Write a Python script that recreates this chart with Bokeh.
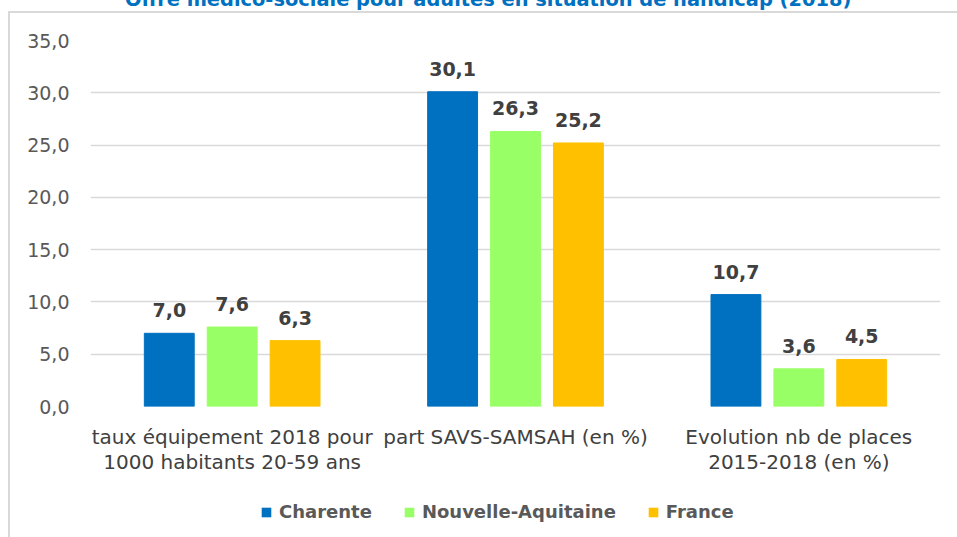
from bokeh.plotting import figure
from bokeh.layouts import column
from bokeh.models import (ColumnDataSource, FactorRange, Range1d, Legend, LegendItem,
                          CustomJSTickFormatter, FixedTicker, Div)
from bokeh.transform import dodge
from bokeh.core.properties import value
from bokeh.embed import file_html
from bokeh.resources import INLINE

title_text = "Offre médico-sociale pour adultes en situation de handicap (2018)"
categories = ["taux équipement 2018 pour\n1000 habitants 20-59 ans",
              "part SAVS-SAMSAH (en %)",
              "Evolution nb de places\n2015-2018 (en %)"]
series_names = ["Charente", "Nouvelle-Aquitaine", "France"]
charente = [7.0, 30.1, 10.7]
nouvelle_aquitaine = [7.6, 26.3, 3.6]
france = [6.3, 25.2, 4.5]
y_ticks = [0, 5, 10, 15, 20, 25, 30, 35]
colors = ["#0070C0", "#99FF66", "#FFC000"]

def fmt(v):
    return f"{v:.1f}".replace(".", ",")

source = ColumnDataSource(data=dict(
    cat=categories,
    s0=charente, s1=nouvelle_aquitaine, s2=france,
    l0=[fmt(v) for v in charente],
    l1=[fmt(v) for v in nouvelle_aquitaine],
    l2=[fmt(v) for v in france],
))

title_div = Div(
    text=(f'<div style="margin-top:-21px; position:relative; top:-6px; padding-left:117px; '
          f'font-family:\'DejaVu Sans\'; font-weight:bold; font-size:19.4px; '
          f'line-height:20px; color:#0070C0; white-space:nowrap;">{title_text}</div>'),
    width=949, height=11, margin=(0, 0, 0, 8),
    styles={"overflow": "hidden"})

x_range = FactorRange(*categories, range_padding=0)
p = figure(width=949, height=479, x_range=x_range,
           y_range=Range1d(0, 35), output_backend="svg", toolbar_location=None,
           min_border_left=80, min_border_right=19, min_border_top=27,
           min_border_bottom=86)
p.outline_line_color = None
p.background_fill_color = "white"
p.border_fill_color = "white"

offsets = [-0.222, 0.0, 0.222]
bar_w = 0.176
for i, (name, col) in enumerate(zip(series_names, colors)):
    p.vbar(x=dodge("cat", offsets[i], range=x_range), top=f"s{i}", width=bar_w,
           source=source, fill_color=col, line_color=col)
    p.text(x=dodge("cat", offsets[i], range=x_range), y=f"s{i}", text=f"l{i}",
           source=source, text_align="center", text_baseline="alphabetic",
           y_offset=-23, text_font=value("DejaVu Sans"), text_font_style="bold",
           text_font_size="19px", text_color="#404040")

p.xgrid.grid_line_color = None
p.ygrid.grid_line_color = "#d9d9d9"
p.ygrid.grid_line_width = 1.5
p.yaxis.ticker = FixedTicker(ticks=y_ticks)
p.yaxis.formatter = CustomJSTickFormatter(code="return tick.toFixed(1).replace('.', ',');")
for ax in (p.xaxis[0], p.yaxis[0]):
    ax.axis_line_color = None
    ax.major_tick_line_color = None
    ax.minor_tick_line_color = None
    ax.major_tick_out = 0
    ax.major_tick_in = 0
p.yaxis.major_label_standoff = 21
p.yaxis.major_label_text_font = "DejaVu Sans"
p.yaxis.major_label_text_font_size = "19px"
p.yaxis.major_label_text_color = "#595959"
p.xaxis.major_label_standoff = 18
p.xaxis.major_label_text_font = "DejaVu Sans"
p.xaxis.major_label_text_font_size = "20px"
p.xaxis.major_label_text_line_height = 1.07
p.xaxis.major_label_text_color = "#404040"
p.xaxis.major_label_orientation = "horizontal"

# legend strip: same bars, but the strip's y range lies far above them so only
# the legend (whose frame fills the strip) is visible
lg = figure(width=949, height=47, x_range=x_range, y_range=Range1d(1000, 1001),
            output_backend="svg", toolbar_location=None, min_border=0,
            x_axis_location=None, y_axis_location=None)
lg.outline_line_color = None
lg.grid.grid_line_color = None
items = []
for i, (name, col) in enumerate(zip(series_names, colors)):
    r = lg.vbar(x=dodge("cat", offsets[i], range=x_range), top=f"s{i}", width=bar_w,
                source=source, fill_color=col, line_color=None)
    items.append(LegendItem(label=name, renderers=[r]))
legend = Legend(items=items, orientation="horizontal", location=(170, 17),
                padding=0, margin=0, spacing=31, glyph_width=12, glyph_height=12,
                label_standoff=7, label_text_font="DejaVu Sans",
                label_text_font_style="bold", label_text_font_size="18px",
                label_text_color="#595959", border_line_color=None,
                background_fill_alpha=0)
lg.add_layout(legend)

body = column(p, lg, spacing=0, margin=(0, 0, 0, 8),
              styles={"border-top": "2px solid #d9d9d9",
                      "border-left": "2px solid #d9d9d9"})
layout = column(title_div, body, spacing=0)
open("out.html", "w").write(file_html(layout, INLINE))
